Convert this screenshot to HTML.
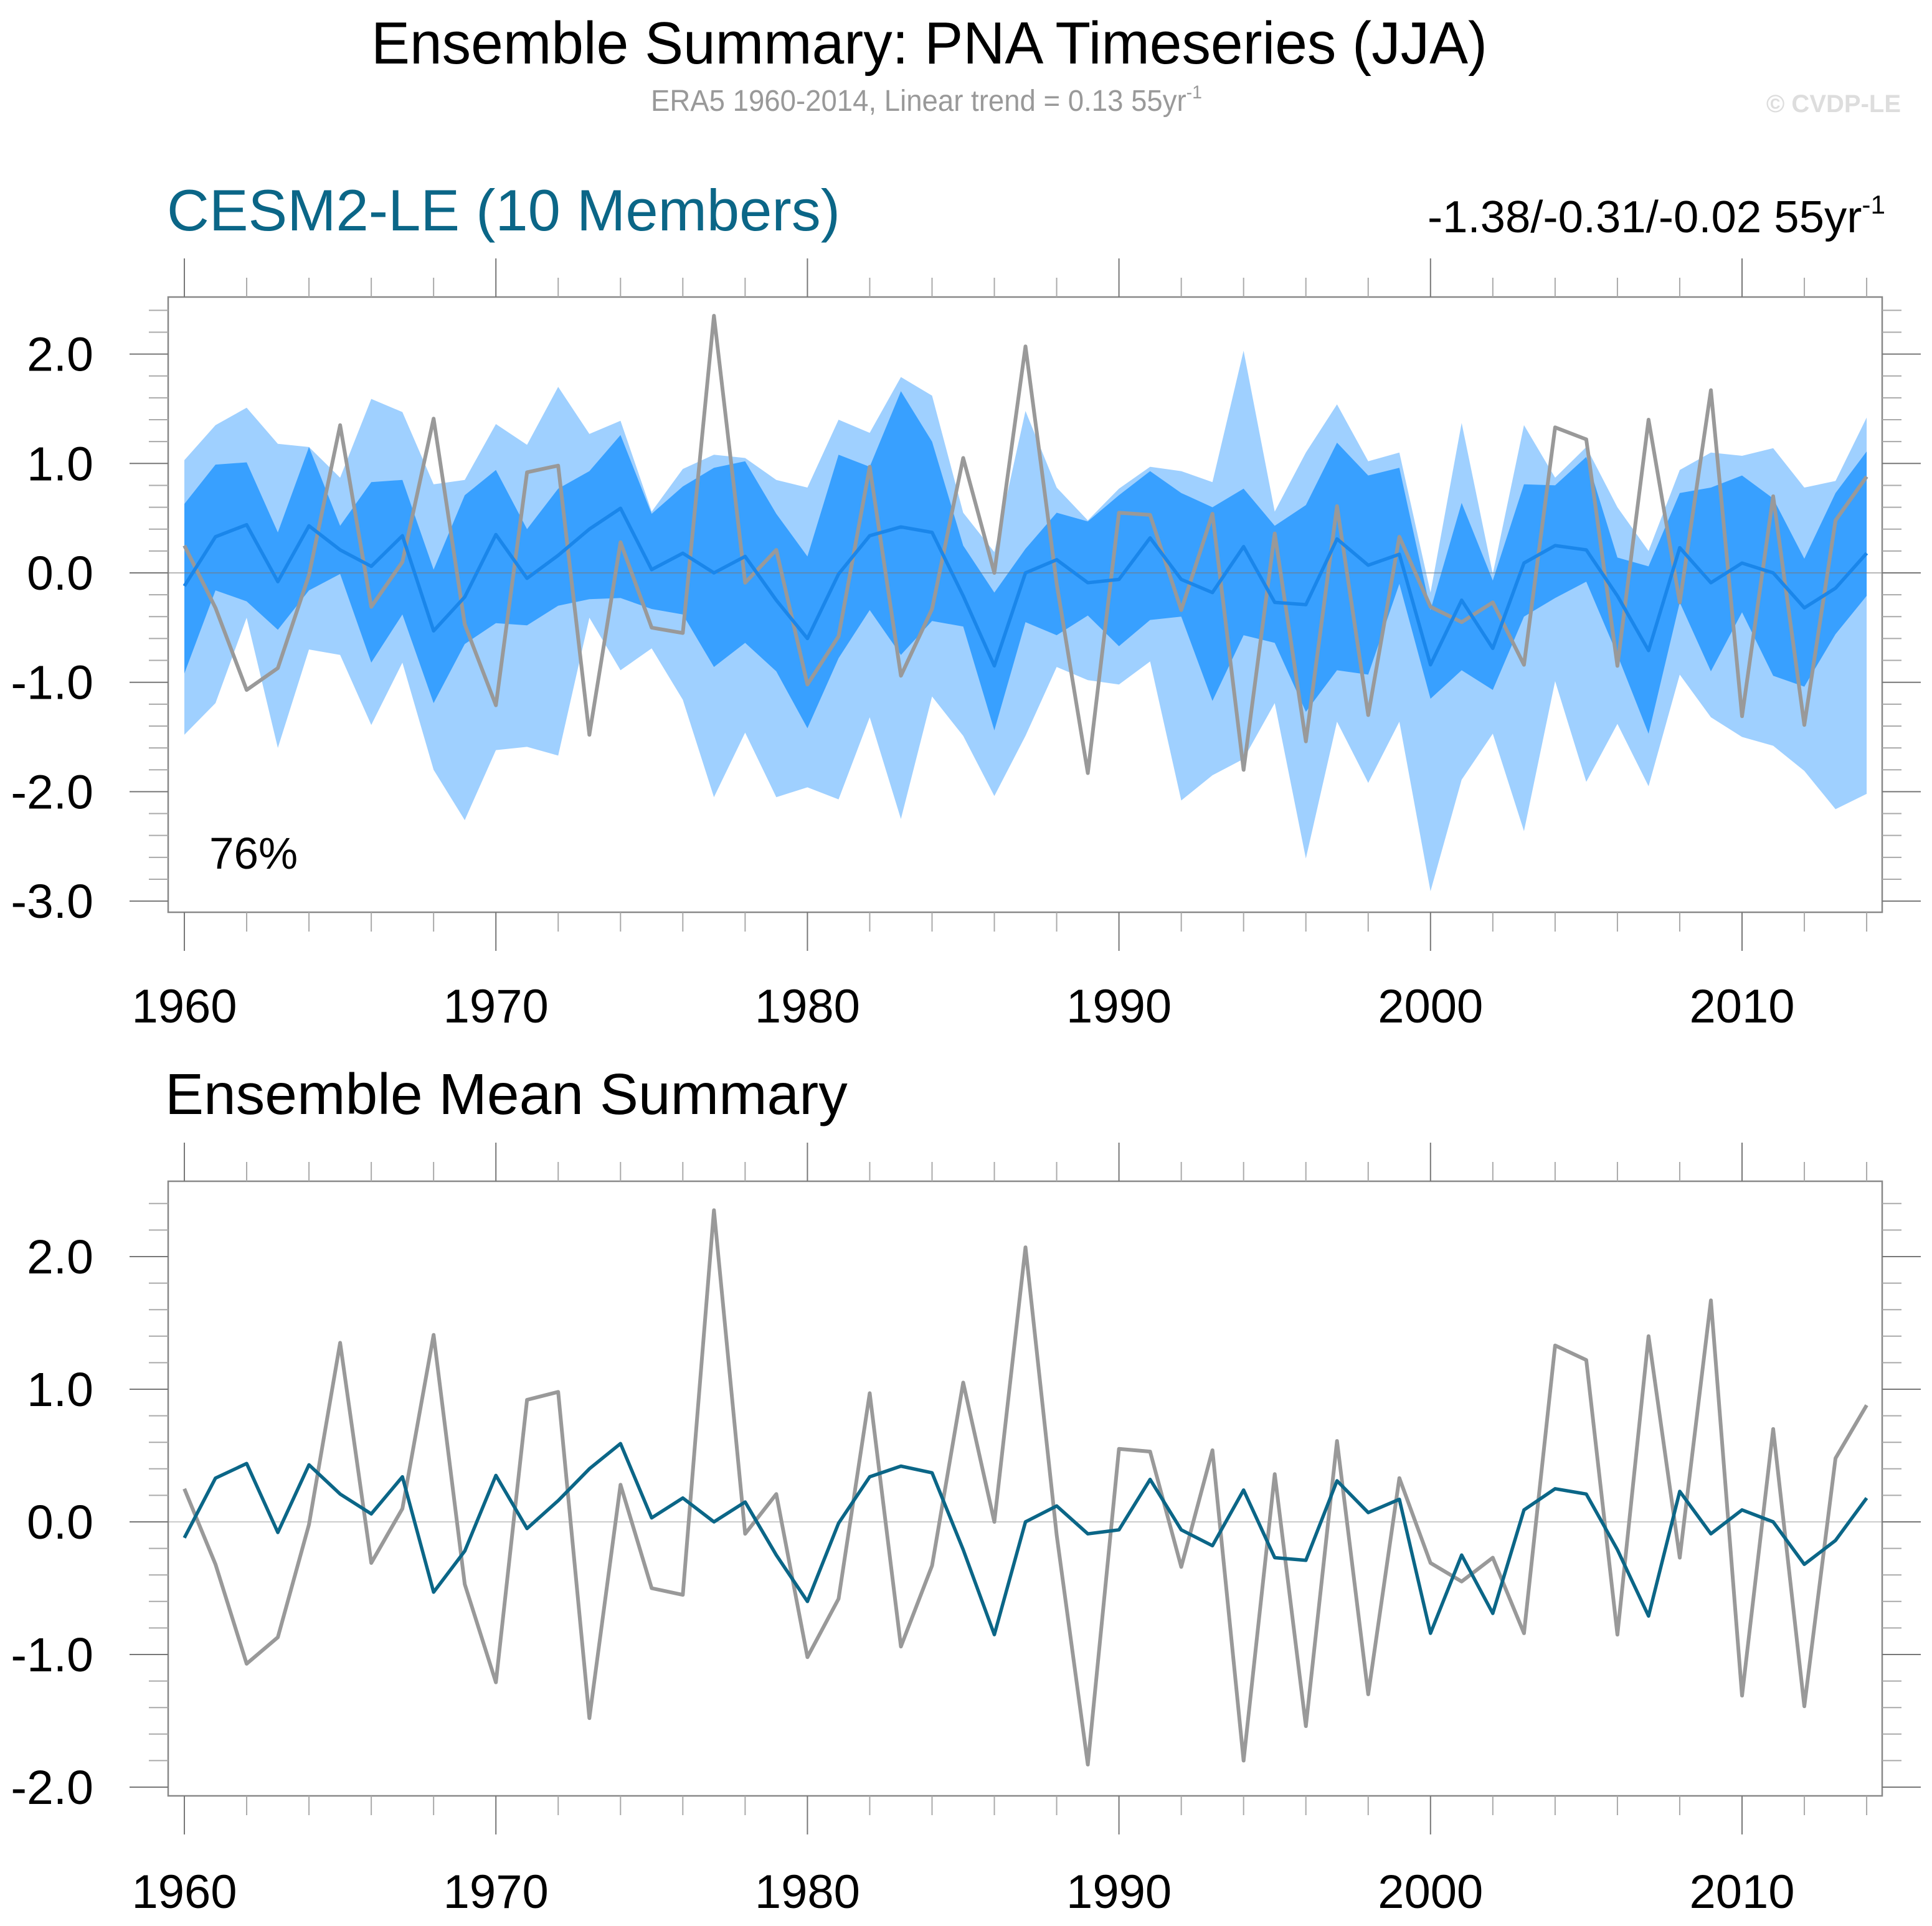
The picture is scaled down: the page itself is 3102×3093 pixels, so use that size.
<!DOCTYPE html>
<html><head><meta charset="utf-8"><style>
html,body{margin:0;padding:0;background:#fff}
svg{display:block}
text{font-family:"Liberation Sans",Arial,sans-serif}
</style></head><body>
<svg id="chart" xmlns="http://www.w3.org/2000/svg" width="3102" height="3093" viewBox="0 0 3102 3093">
<text x="596" y="102" font-size="96" textLength="1792" lengthAdjust="spacingAndGlyphs">Ensemble Summary: PNA Timeseries (JJA)</text>
<text x="1045" y="178" font-size="48" fill="#999" textLength="885" lengthAdjust="spacingAndGlyphs">ERA5 1960-2014, Linear trend = 0.13 55yr<tspan dy="-20" font-size="30">-1</tspan></text>
<text x="3052" y="180" font-size="40" font-weight="bold" fill="#ddd" text-anchor="end">© CVDP-LE</text>
<text x="268" y="370" font-size="94" fill="#0b6687" textLength="1081" lengthAdjust="spacingAndGlyphs">CESM2-LE (10 Members)</text>
<text x="2292" y="373" font-size="72" textLength="735" lengthAdjust="spacingAndGlyphs">-1.38/-0.31/-0.02 55yr<tspan dy="-30" font-size="42">-1</tspan></text>
<text x="265" y="1789" font-size="93">Ensemble Mean Summary</text>
<text x="336" y="1395" font-size="71">76%</text>
<g id="top"></g>
<g id="bot"></g>
</svg>
<script>
const years = [];
for (let y = 1960; y <= 2014; y++) years.push(y);
const era5 = [0.25,-0.32,-1.07,-0.87,-0.02,1.35,-0.31,0.1,1.41,-0.47,-1.21,0.92,0.98,-1.48,0.28,-0.5,-0.55,2.35,-0.09,0.21,-1.02,-0.58,0.97,-0.94,-0.33,1.05,0.0,2.07,-0.1,-1.83,0.55,0.53,-0.34,0.54,-1.8,0.36,-1.54,0.61,-1.3,0.33,-0.31,-0.45,-0.27,-0.84,1.33,1.22,-0.85,1.4,-0.27,1.67,-1.31,0.7,-1.39,0.48,0.88];
const ensMean = [-0.12,0.33,0.44,-0.08,0.43,0.21,0.06,0.34,-0.53,-0.22,0.35,-0.05,0.16,0.4,0.59,0.03,0.18,0.0,0.15,-0.25,-0.6,-0.01,0.34,0.42,0.37,-0.21,-0.85,0.0,0.12,-0.09,-0.06,0.32,-0.06,-0.18,0.24,-0.27,-0.29,0.31,0.07,0.17,-0.84,-0.25,-0.69,0.09,0.25,0.21,-0.21,-0.71,0.23,-0.09,0.09,0.0,-0.32,-0.14,0.18];
const lightUpper = [1.03,1.35,1.51,1.18,1.15,0.87,1.59,1.47,0.81,0.85,1.36,1.17,1.70,1.27,1.39,0.56,0.95,1.08,1.05,0.85,0.78,1.40,1.28,1.79,1.62,0.55,0.19,1.48,0.78,0.48,0.77,0.97,0.93,0.83,2.03,0.56,1.10,1.54,1.02,1.10,-0.18,1.37,-0.01,1.35,0.87,1.15,0.60,0.20,0.94,1.10,1.07,1.14,0.78,0.84,1.42];
const darkUpper = [0.63,0.99,1.01,0.37,1.15,0.43,0.83,0.85,0.03,0.71,0.94,0.40,0.77,0.93,1.26,0.54,0.79,0.96,1.02,0.54,0.15,1.08,0.97,1.66,1.20,0.25,-0.18,0.22,0.55,0.47,0.71,0.93,0.73,0.60,0.77,0.43,0.62,1.19,0.89,0.96,-0.34,0.64,-0.07,0.81,0.80,1.06,0.14,0.06,0.73,0.78,0.89,0.68,0.13,0.73,1.11];
const darkLower = [-0.92,-0.16,-0.26,-0.52,-0.16,-0.01,-0.82,-0.38,-1.19,-0.65,-0.46,-0.48,-0.30,-0.24,-0.23,-0.33,-0.38,-0.86,-0.64,-0.90,-1.42,-0.78,-0.34,-0.75,-0.44,-0.49,-1.44,-0.45,-0.57,-0.39,-0.67,-0.43,-0.40,-1.17,-0.57,-0.64,-1.27,-0.89,-0.93,-0.10,-1.15,-0.89,-1.07,-0.40,-0.23,-0.08,-0.75,-1.47,-0.27,-0.90,-0.36,-0.94,-1.04,-0.56,-0.21];
const lightLower = [-1.48,-1.19,-0.41,-1.60,-0.70,-0.75,-1.39,-0.82,-1.80,-2.26,-1.62,-1.59,-1.67,-0.41,-0.89,-0.69,-1.16,-2.05,-1.46,-2.05,-1.96,-2.07,-1.32,-2.25,-1.13,-1.49,-2.04,-1.49,-0.86,-0.98,-1.02,-0.81,-2.08,-1.85,-1.70,-1.19,-2.61,-1.36,-1.92,-1.36,-2.91,-1.89,-1.47,-2.36,-0.99,-1.91,-1.38,-1.95,-0.93,-1.32,-1.50,-1.58,-1.81,-2.16,-2.02];
const topYTicks = ["-3.0","-2.0","-1.0","0.0","1.0","2.0"];
const botYTicks = ["-2.0","-1.0","0.0","1.0","2.0"];
const xTickLabels = ["1960","1970","1980","1990","2000","2010"];

const NS = "http://www.w3.org/2000/svg";
const X0 = 296, PERYR = 50.02, BL = 270, BR = 3022;
function xs(yr){ return X0 + (yr - 1960) * PERYR; }
function mk(tag, attrs, parent){ const e = document.createElementNS(NS, tag); for (const k in attrs) e.setAttribute(k, attrs[k]); parent.appendChild(e); return e; }

function drawAxes(g, ys, top, bot, vmin, vmax, ylabels, labBase, prefix){
  const box = mk('rect', {x:BL, y:top, width:BR-BL, height:bot-top, fill:'none', stroke:'#888', 'stroke-width':2.5}, g);
  
  
  for (let i = Math.round(vmin*5); i <= Math.round(vmax*5); i++){
    const v = i/5, y = ys(v);
    if (y < top || y > bot) continue;
    const major = (i % 5 === 0);
    const len = major ? 62 : 31;
    const tl = mk('line', {x1:BL-len, x2:BL, y1:y, y2:y, stroke: major?'#777':'#aaa', 'stroke-width':2}, g);
    
    
    const tr = mk('line', {x1:BR, x2:BR+len, y1:y, y2:y, stroke: major?'#777':'#aaa', 'stroke-width':2}, g);
    
    
  }
  ylabels.forEach(function(lab){
    const t = mk('text', {x:150, y:ys(parseFloat(lab))+27, 'font-size':77, 'text-anchor':'end'}, g);
    t.textContent = lab;
    
    
  });
  for (let yr = 1960; yr <= 2014; yr += 2){
    const x = xs(yr), major = (yr % 10 === 0), len = major ? 62 : 31;
    const a = mk('line', {x1:x, x2:x, y1:top-len, y2:top, stroke: major?'#777':'#aaa', 'stroke-width':2}, g);
    
    
    const b = mk('line', {x1:x, x2:x, y1:bot, y2:bot+len, stroke: major?'#777':'#aaa', 'stroke-width':2}, g);
    
    
  }
  xTickLabels.forEach(function(lab){
    const t = mk('text', {x:xs(parseInt(lab)), y:labBase, 'font-size':76, 'text-anchor':'middle'}, g);
    t.textContent = lab;
    
    
  });
}
function bandPath(up, lo, ys){
  let d = '';
  years.forEach(function(yr,i){ d += (i?'L':'M') + xs(yr).toFixed(1) + ',' + ys(up[i]).toFixed(1); });
  for (let i = years.length-1; i >= 0; i--) d += 'L' + xs(years[i]).toFixed(1) + ',' + ys(lo[i]).toFixed(1);
  return d + 'Z';
}
function linePts(vals, ys){ return years.map(function(yr,i){ return xs(yr).toFixed(1) + ',' + ys(vals[i]).toFixed(1); }).join(' '); }

const gt = document.getElementById('top');
const yT = function(v){ return 920 - 175.7*v; };
const lb = mk('path', {d:bandPath(lightUpper, lightLower, yT), fill:'#9fd0ff'}, gt);


const db = mk('path', {d:bandPath(darkUpper, darkLower, yT), fill:'#38a0ff'}, gt);


const z1 = mk('line', {x1:BL, x2:BR, y1:yT(0), y2:yT(0), stroke:'#777', 'stroke-width':1.5, 'stroke-opacity':0.7}, gt);


const g1 = mk('polyline', {points:linePts(era5, yT), fill:'none', stroke:'#999', 'stroke-width':6, 'stroke-linejoin':'round'}, gt);


const m1 = mk('polyline', {points:linePts(ensMean, yT), fill:'none', stroke:'#1a86ea', 'stroke-width':5.5, 'stroke-linejoin':'round'}, gt);


drawAxes(gt, yT, 477, 1465, -3.1, 2.52, topYTicks, 1642, 'top');

const gb = document.getElementById('bot');
const yB = function(v){ return 2444 - 213*v; };
const z2 = mk('line', {x1:BL, x2:BR, y1:yB(0), y2:yB(0), stroke:'#ccc', 'stroke-width':2}, gb);


const g2 = mk('polyline', {points:linePts(era5, yB), fill:'none', stroke:'#999', 'stroke-width':6, 'stroke-linejoin':'round'}, gb);


const m2 = mk('polyline', {points:linePts(ensMean, yB), fill:'none', stroke:'#0b6687', 'stroke-width':5.5, 'stroke-linejoin':'round'}, gb);


drawAxes(gb, yB, 1897, 2884, -2.07, 2.57, botYTicks, 3064, 'bottom');
</script>
</body></html>
